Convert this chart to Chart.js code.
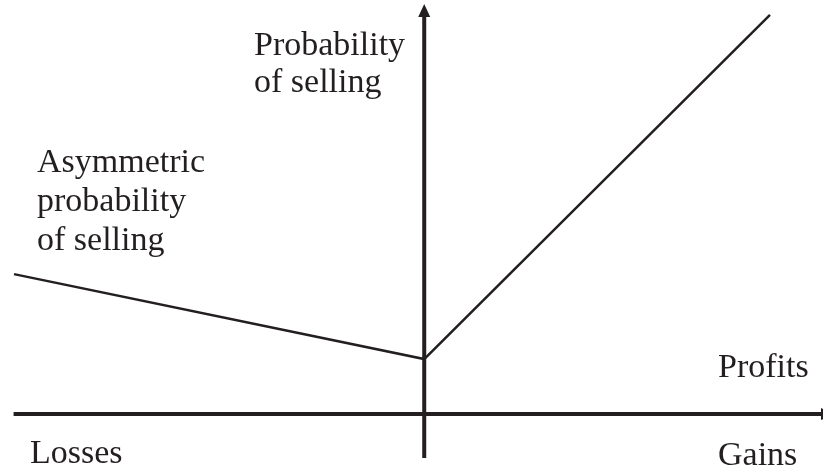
<!DOCTYPE html>
<html>
<head>
<meta charset="utf-8">
<script src="https://cdn.jsdelivr.net/npm/chart.js@4"></script>
<style>
  html, body { margin: 0; padding: 0; background: #fff; }
  #wrap { width: 823px; height: 470px; }
</style>
</head>
<body>
<div id="wrap"><canvas id="probChart" width="823" height="470"></canvas></div>
<script>
// profit/loss position (x) and probability of selling (y)
const profitPoints = [-0.967, 0, 0.815];
const sellProb = [0.338, 0.133, 0.964];

const xRange = [-1, 0.94];
const yRange = [-0.135, 1];

const ink = '#231f20';
const labelFont = '34px "Liberation Serif", "Times New Roman", serif';

// text labels: [text, left px, baseline px]
const labels = [
    ['Probability', 254, 55],
    ['of selling', 254, 92],
    ['Asymmetric', 37, 172],
    ['probability', 37, 211],
    ['of selling', 37, 250],
    ['Profits', 718, 377],
    ['Losses', 30, 463],
    ['Gains', 718, 465]
];

const axesPlugin = {
    id: 'axesPlugin',
    afterDatasetsDraw(chart) {
        const ctx = chart.ctx;
        const xs = chart.scales.x, ys = chart.scales.y;
        const x0 = xs.getPixelForValue(0);
        const y0 = ys.getPixelForValue(0);
        ctx.save();
        ctx.strokeStyle = ink;
        ctx.fillStyle = ink;
        ctx.lineWidth = 4;

        // horizontal axis
        const left = xs.getPixelForValue(-0.968);
        ctx.beginPath();
        ctx.moveTo(left, y0);
        ctx.lineTo(chart.width - 2, y0);
        ctx.stroke();
        ctx.beginPath();
        ctx.moveTo(chart.width - 2, y0 - 6);
        ctx.lineTo(chart.width + 11, y0);
        ctx.lineTo(chart.width - 2, y0 + 6);
        ctx.closePath();
        ctx.fill();

        // vertical axis with arrow
        const bottom = ys.getPixelForValue(-0.106);
        const tip = 4;
        ctx.beginPath();
        ctx.moveTo(x0, bottom);
        ctx.lineTo(x0, tip + 10);
        ctx.stroke();
        ctx.beginPath();
        ctx.moveTo(x0, tip);
        ctx.lineTo(x0 - 6, tip + 13);
        ctx.lineTo(x0 + 6, tip + 13);
        ctx.closePath();
        ctx.fill();

        // labels
        ctx.font = labelFont;
        ctx.textAlign = 'left';
        ctx.textBaseline = 'alphabetic';
        labels.forEach(function (l) {
            ctx.fillText(l[0], l[1], l[2]);
        });
        ctx.restore();
    }
};

new Chart(document.getElementById('probChart'), {
    type: 'scatter',
    data: {
        datasets: [{
            data: profitPoints.map(function (x, i) { return { x: x, y: sellProb[i] }; }),
            showLine: true,
            borderColor: ink,
            borderWidth: 2.5,
            pointRadius: 0,
            tension: 0
        }]
    },
    options: {
        responsive: false,
        animation: false,
        layout: { padding: 0 },
        plugins: {
            legend: { display: false },
            tooltip: { enabled: false }
        },
        scales: {
            x: { type: 'linear', min: xRange[0], max: xRange[1], display: false },
            y: { type: 'linear', min: yRange[0], max: yRange[1], display: false }
        }
    },
    plugins: [axesPlugin]
});
</script>
</body>
</html>
